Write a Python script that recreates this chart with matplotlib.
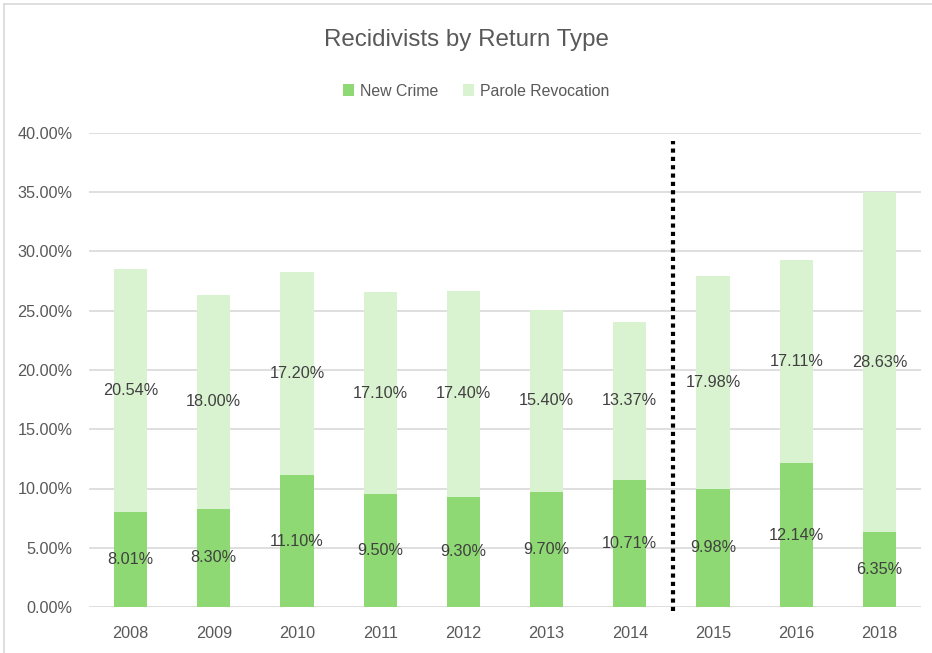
import matplotlib
matplotlib.use("Agg")
import matplotlib.pyplot as plt
from matplotlib.lines import Line2D
from matplotlib.patches import Patch
import numpy as np

years = ["2008", "2009", "2010", "2011", "2012", "2013", "2014", "2015", "2016", "2018"]
new_crime = [8.01, 8.30, 11.10, 9.50, 9.30, 9.70, 10.71, 9.98, 12.14, 6.35]
parole_revocation = [20.54, 18.00, 17.20, 17.10, 17.40, 15.40, 13.37, 17.98, 17.11, 28.63]
yticks = [0, 5, 10, 15, 20, 25, 30, 35, 40]

c_new = "#8ED973"
c_par = "#D9F2D0"
txt = "#595959"
lbl = "#404040"

plt.rcParams['font.family'] = ['Liberation Sans', 'DejaVu Sans']

fig = plt.figure(figsize=(9.32, 6.53), dpi=100)
ax = fig.add_axes([89/932, 1-607/653, (921-89)/932, (607-133)/653])

x = np.arange(len(years))
w = 0.4
ax.bar(x, new_crime, width=w, color=c_new, zorder=2)
ax.bar(x, parole_revocation, width=w, bottom=new_crime, color=c_par, zorder=2)

for i in range(len(years)):
    ax.text(x[i], new_crime[i]/2, f"{new_crime[i]:.2f}%", ha="center", va="center",
            fontsize=11.7, color=lbl, zorder=3)
    ax.text(x[i], new_crime[i] + parole_revocation[i]/2, f"{parole_revocation[i]:.2f}%",
            ha="center", va="center", fontsize=11.7, color=lbl, zorder=3)

ax.set_xlim(-0.5, len(years)-0.5)
ax.set_ylim(0, 40)
ax.set_yticks(yticks)
ax.set_yticklabels([f"{v:.2f}%" for v in yticks])
ax.set_xticks(x)
ax.set_xticklabels(years)
ax.tick_params(axis="both", length=0, colors=txt, labelsize=11.7)
ax.tick_params(axis="y", pad=12)
ax.tick_params(axis="x", pad=13.5)
ax.grid(axis="y", color="#D9D9D9", linewidth=1.2, zorder=0)
ax.set_axisbelow(True)
for s in ax.spines.values():
    s.set_visible(False)

# dotted divider between 2014 and 2015
ax.plot([6.52, 6.52], [-0.3, 39.3], color="black", linewidth=3,
        linestyle=(0, (1, 1)), clip_on=False, zorder=4)

fig.text(0.5, 1-40/653, "Recidivists by Return Type", ha="center", va="center",
         fontsize=17.4, color=txt)

handles = [Patch(facecolor=c_new, edgecolor="none"), Patch(facecolor=c_par, edgecolor="none")]
fig.legend(handles, ["New Crime", "Parole Revocation"], loc="center",
           bbox_to_anchor=(476/932, 1-91/653), ncol=2, frameon=False,
           fontsize=11.4, labelcolor=txt, handlelength=0.7, handleheight=0.7,
           handletextpad=0.35, columnspacing=1.6)

# chart frame
fig.add_artist(Line2D([4/932, 4/932], [0, 1-4/653], color="#D9D9D9", linewidth=1.2))
fig.add_artist(Line2D([4/932, 1], [1-4/653, 1-4/653], color="#D9D9D9", linewidth=1.2))

fig.savefig("out.png", dpi=100)
